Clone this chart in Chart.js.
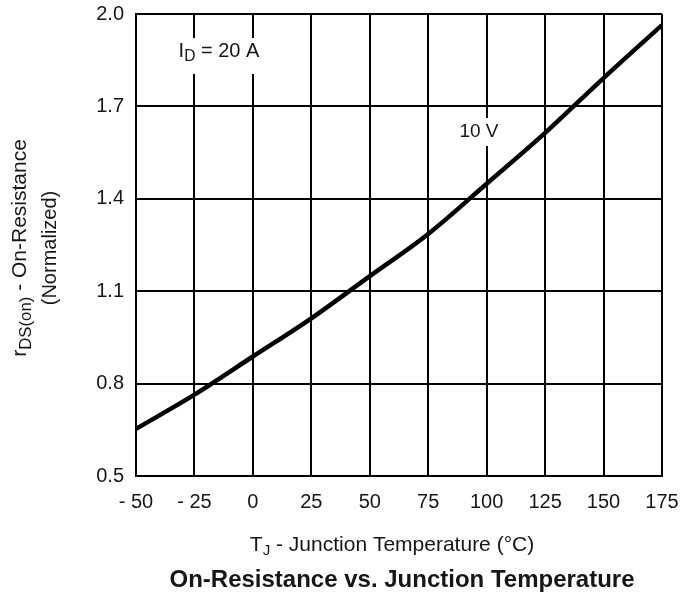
<!DOCTYPE html>
<html>
<head>
<meta charset="utf-8">
<script src="https://cdn.jsdelivr.net/npm/chart.js@4"></script>
<style>
  html, body { margin: 0; padding: 0; background: #fff; }
  #wrap { width: 698px; height: 596px; position: relative; }
</style>
</head>
<body>
<div id="wrap"><canvas id="rdson_chart"></canvas></div>
<script>
// Junction temperature (°C) and normalized on-resistance at ID = 20 A, VGS = 10 V
const temps = [-50, -25, 0, 25, 50, 75, 100, 125, 150, 175];
const rdsOn = [0.653, 0.764, 0.888, 1.012, 1.149, 1.286, 1.449, 1.614, 1.792, 1.964];
const xTickValues = [-50, -25, 0, 25, 50, 75, 100, 125, 150, 175];
const yTickLabels = ["0.5", "0.8", "1.1", "1.4", "1.7", "2.0"];

const FONT = '"Liberation Sans", Arial, Helvetica, sans-serif';
const INK = "#161616";

// draws a run of text pieces, some of them as subscripts; returns the width
function richText(ctx, parts, x, y, size, weight, align, subScale) {
    const ss = subScale || 0.72;
    const widths = parts.map((p) => {
        ctx.font = (weight || "") + " " + (p.sub ? size * ss : size) + "px " + FONT;
        return ctx.measureText(p.t).width;
    });
    const total = widths.reduce((a, b) => a + b, 0);
    let cx = align === "center" ? x - total / 2 : x;
    parts.forEach((p, i) => {
        ctx.font = (weight || "") + " " + (p.sub ? size * ss : size) + "px " + FONT;
        ctx.fillText(p.t, cx, p.sub ? y + size * 0.3 : y);
        cx += widths[i];
    });
    return total;
}

const labelsPlugin = {
    id: "labels",
    afterDraw(chart) {
        const ctx = chart.ctx;
        ctx.save();
        ctx.fillStyle = INK;
        ctx.textBaseline = "middle";
        ctx.textAlign = "left";

        // in-plot notes, with a white patch breaking the grid behind them
        ctx.fillStyle = "#fff";
        ctx.fillRect(170, 38, 100, 36);
        ctx.fillRect(455, 118, 48, 28);
        ctx.fillStyle = INK;
        richText(ctx, [{ t: "I" }, { t: "D", sub: true }, { t: " = 20 A" }], 219, 51, 20, "", "center", 0.78);
        richText(ctx, [{ t: "10 V" }], 479, 132, 19, "", "center");

        // x axis title and caption
        richText(ctx, [{ t: "T" }, { t: "J", sub: true }, { t: " - Junction Temperature (°C)" }], 392, 545, 21, "", "center");
        richText(ctx, [{ t: "On-Resistance vs. Junction Temperature" }], 402, 580, 24, "bold", "center");

        // y axis title, two rotated lines
        ctx.translate(20, 248);
        ctx.rotate(-Math.PI / 2);
        richText(ctx, [{ t: "r" }, { t: "DS(on)", sub: true }, { t: " - On-Resistance" }], 0, 0, 21, "", "center", 0.8);
        richText(ctx, [{ t: "(Normalized)" }], 0, 30, 20, "", "center");
        ctx.restore();
    },
};

new Chart(document.getElementById("rdson_chart"), {
    type: "line",
    data: {
        datasets: [
            {
                data: temps.map((t, i) => ({ x: t, y: rdsOn[i] })),
                borderColor: "#000",
                borderWidth: 4.5,
                pointRadius: 0,
                cubicInterpolationMode: "monotone",
                fill: false,
            },
        ],
    },
    options: {
        responsive: true,
        maintainAspectRatio: false,
        animation: false,
        events: [],
        layout: { padding: { left: 0, top: 14, right: 36, bottom: 0 } },
        plugins: {
            legend: { display: false },
            tooltip: { enabled: false },
        },
        scales: {
            x: {
                type: "linear",
                min: -50,
                max: 175,
                afterBuildTicks: (s) => {
                    s.ticks = xTickValues.map((v) => ({ value: v }));
                },
                afterFit: (s) => {
                    s.height = 120;
                    s.paddingLeft = 0;
                    s.paddingRight = 0;
                },
                grid: { color: "#000", lineWidth: 2, drawTicks: false },
                border: { color: "#000", width: 2 },
                ticks: {
                    padding: 14,
                    color: INK,
                    font: { family: FONT, size: 20 },
                    maxRotation: 0,
                    callback: (v) => (v < 0 ? "- " + Math.abs(v) : String(v)),
                },
            },
            y: {
                min: 0.5,
                max: 2.0,
                afterBuildTicks: (s) => {
                    s.ticks = yTickLabels.map((l) => ({ value: parseFloat(l) }));
                },
                afterFit: (s) => {
                    s.width = 136;
                    s.paddingTop = 0;
                    s.paddingBottom = 0;
                },
                grid: { color: "#000", lineWidth: 2, drawTicks: false },
                border: { color: "#000", width: 2 },
                ticks: {
                    padding: 12,
                    color: INK,
                    font: { family: FONT, size: 20 },
                    callback: (v) => yTickLabels.find((l) => parseFloat(l) === v) || v.toFixed(1),
                },
            },
        },
    },
    plugins: [labelsPlugin],
});
</script>
</body>
</html>
